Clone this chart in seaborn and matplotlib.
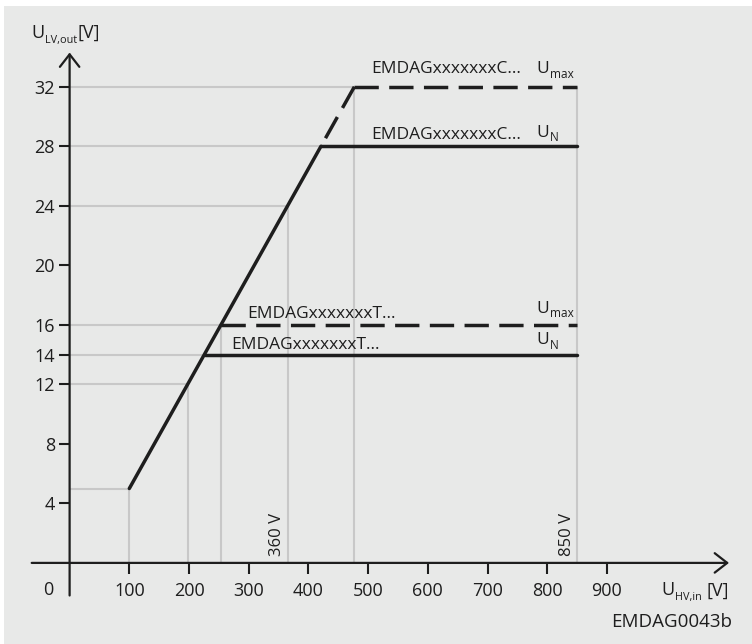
import matplotlib
matplotlib.use('Agg')
import matplotlib.pyplot as plt
import seaborn as sns
from matplotlib.patches import Rectangle

# converter ramp: LV output voltage vs HV input voltage
ramp_in = [100, 421]
ramp_out = [5, 28]
# dashed extension, drawn from the top corner down
ramp_ext_in = [477, 421]
ramp_ext_out = [32, 28]

# output limits (start voltage on the ramp, level, dashed?)
u_in_end = 850
level_start = [477, 421, 254, 226]
level_value = [32, 28, 16, 14]
level_dashed = [True, False, True, False]
level_names = ['EMDAGxxxxxxxC…', 'EMDAGxxxxxxxC…', 'EMDAGxxxxxxxT…', 'EMDAGxxxxxxxT…']
level_subs = ['max', 'N', 'max', 'N']

# light guide lines
guide_h_x = [477, 421, 365, 254, 226, 198, 100]
guide_h_y = [32, 28, 24, 16, 14, 12, 5]
guide_v_x = [100, 198, 254, 365, 477, 850]
guide_v_y = [5, 12, 16, 24, 32, 32]
marked_x = [365, 850]
marked_labels = ['360 V', '850 V']

x_ticks = [100, 200, 300, 400, 500, 600, 700, 800, 900]
y_ticks = [4, 8, 12, 14, 16, 20, 24, 28, 32]

sns.set_theme(style='white')
plt.rcParams['font.family'] = ['Open Sans', 'DejaVu Sans']

ink = '#1e1e1e'
guide = '#c8c8c8'
bg = '#e8e9e8'

fig = plt.figure(figsize=(7.52, 6.44), dpi=100)
fig.patches.append(Rectangle((4 / 752, 0), 1, 638 / 644, transform=fig.transFigure,
                             facecolor=bg, edgecolor='none', zorder=-10))
ax = fig.add_axes([0, 0, 1, 1])
ax.set_facecolor('none')
ax.set_xlim(-116.6, 1143)
ax.set_ylim(-5.45, 37.83)
ax.grid(False)
for side in ['top', 'right', 'bottom', 'left']:
    ax.spines[side].set_visible(False)
ax.spines['bottom'].set_position(('data', 0))
ax.spines['left'].set_position(('data', 0))

# guides
ax.hlines(guide_h_y, 0, guide_h_x, color=guide, lw=1.5, zorder=1)
ax.vlines(guide_v_x, 0, guide_v_y, color=guide, lw=1.5, zorder=1)

# ramp
sns.lineplot(x=ramp_in, y=ramp_out, ax=ax, color=ink, lw=2.5, zorder=3, errorbar=None)
sns.lineplot(x=ramp_ext_in, y=ramp_ext_out, ax=ax, color=ink, lw=2.5, sort=False,
             linestyle=(0, (7, 3)), zorder=3, errorbar=None)

for xs, v, dsh in zip(level_start, level_value, level_dashed):
    sns.lineplot(x=[xs, u_in_end], y=[v, v], ax=ax, color=ink, lw=2.5, zorder=3,
                 linestyle=(0, (7, 3)) if dsh else '-', errorbar=None)

# axes with arrows
arrow = dict(arrowstyle='->,head_length=0.45,head_width=0.35', lw=1.6, color=ink,
             mutation_scale=20, shrinkA=0, shrinkB=0)
ax.annotate('', xy=(1104.5, 0), xytext=(-63.5, 0), arrowprops=arrow, zorder=4)
ax.annotate('', xy=(0, 34.3), xytext=(0, -2.19), arrowprops=arrow, zorder=4)

ax.set_xticks(x_ticks)
ax.set_yticks(y_ticks)
ax.tick_params(axis='both', direction='out', length=8, width=1.5, color=ink,
               labelsize=13, labelcolor=ink, bottom=True, left=True)
ax.tick_params(axis='x', pad=5.6)
ax.tick_params(axis='y', pad=2.7)
ax.set_xlabel('')
ax.set_ylabel('')
ax.text(-36, -2.19, '0', fontsize=13, color=ink, ha='center', va='baseline')

renderer = fig.canvas.get_renderer()


def u_label(x, y, sub, tail='', size=13, sub_size=8.5, drop=3.6, gap=1):
    t = ax.text(x, y, 'U', fontsize=size, ha='left', va='baseline', color=ink)
    w = t.get_window_extent(renderer).width * 72 / fig.dpi
    s = ax.annotate(sub, (x, y), xytext=(w + 0.3, -drop), textcoords='offset points',
                    fontsize=sub_size, ha='left', va='baseline', color=ink)
    if tail:
        w2 = s.get_window_extent(renderer).width * 72 / fig.dpi
        ax.annotate(tail, (x, y), xytext=(w + 0.3 + w2 + gap, 0), textcoords='offset points',
                    fontsize=size, ha='left', va='baseline', color=ink)


u_label(-63.5, 35.3, 'LV,out', '[V]', sub_size=7.8, gap=0)
u_label(991.8, -2.19, 'HV,in', '[V]', sub_size=7.8, gap=3)
ax.text(1109, -4.32, 'EMDAG0043b', fontsize=13.5, color=ink, ha='right', va='baseline')

# level labels
name_x = [505, 505, 298, 270]
name_y = [32.9, 28.48, 16.49, 14.36]
sub_y = [32.9, 28.64, 16.8, 14.69]
for nm, sb_, nx, ny, sy in zip(level_names, level_subs, name_x, name_y, sub_y):
    ax.text(nx, ny, nm, fontsize=12.5, color=ink, ha='left', va='baseline')
    u_label(782, sy, sb_, size=12.5, drop=3.2)

for mx, ml in zip(marked_x, marked_labels):
    ax.annotate(ml, (mx, 0), xytext=(-7.5, 5), textcoords='offset points', rotation=90,
                fontsize=12, color=ink, ha='center', va='bottom')

fig.savefig('out.png', dpi=100, facecolor='white')
